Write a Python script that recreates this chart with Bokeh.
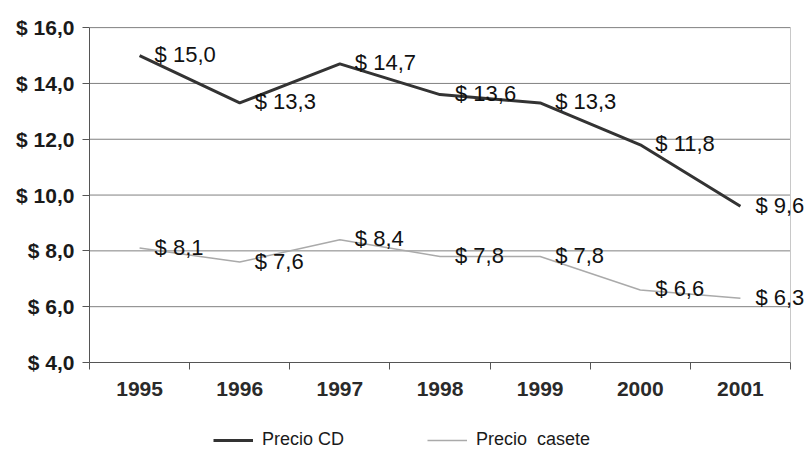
from bokeh.plotting import figure
from bokeh.layouts import column
from bokeh.models import Range1d, FixedTicker, Legend, LegendItem, ColumnDataSource
from bokeh.embed import file_html
from bokeh.resources import INLINE
from bokeh.core.properties import value

years = [1995, 1996, 1997, 1998, 1999, 2000, 2001]
precio_cd = [15.0, 13.3, 14.7, 13.6, 13.3, 11.8, 9.6]
precio_casete = [8.1, 7.6, 8.4, 7.8, 7.8, 6.6, 6.3]
y_ticks = [4, 6, 8, 10, 12, 14, 16]
series_names = ["Precio CD", "Precio  casete"]

def fmt(v):
    return "$ " + f"{v:.1f}".replace(".", ",")

FONT = "Liberation Sans"
CD_COLOR, CS_COLOR = "#333333", "#aaaaaa"
CD_W, CS_W = 3, 1.5

# plot box spans 701 px for the 7 years; the frame runs on to the page edge
# so that the last data labels are not clipped
x_start = years[0] - 0.5
x_stop = years[-1] + 0.5
x_end = x_start + (x_stop - x_start) * 720.0 / 701.0
y_end = y_ticks[-1] + 0.04

p = figure(width=809, height=400, output_backend="svg", toolbar_location=None,
           x_range=Range1d(x_start, x_end),
           y_range=Range1d(y_ticks[0], y_end),
           min_border_left=89, min_border_right=0, min_border_top=26, min_border_bottom=38)

p.outline_line_color = None
p.background_fill_color = "white"
p.border_fill_color = "white"
p.xgrid.visible = False
p.ygrid.visible = False

# x axis
xa = p.xaxis[0]
xa.bounds = (x_start, x_stop)
xa.ticker = FixedTicker(ticks=years, minor_ticks=[y - 0.5 for y in years] + [x_stop])
xa.major_tick_out = 0
xa.major_tick_in = 0
xa.minor_tick_out = 7
xa.minor_tick_in = 0
xa.minor_tick_line_color = "#555555"
xa.axis_line_color = "#555555"
xa.major_label_standoff = 12
xa.major_label_text_font = FONT
xa.major_label_text_font_size = "21px"
xa.major_label_text_font_style = "bold"
xa.major_label_text_color = "#2a2a2a"

# y axis
ya = p.yaxis[0]
ya.bounds = (y_ticks[0], y_ticks[-1])
ya.ticker = FixedTicker(ticks=y_ticks, minor_ticks=[])
ya.major_label_overrides = {t: fmt(t) for t in y_ticks}
ya.major_tick_out = 7
ya.major_tick_in = 0
ya.major_tick_line_color = "#555555"
ya.axis_line_color = "#555555"
ya.major_label_standoff = 8
ya.major_label_text_font = FONT
ya.major_label_text_font_size = "21px"
ya.major_label_text_font_style = "bold"
ya.major_label_text_color = "#1a1a1a"

# horizontal grid lines limited to the plot box, and its light right edge
grid_y = y_ticks[1:]
p.segment(x0=[x_start] * len(grid_y), x1=[x_stop] * len(grid_y), y0=grid_y, y1=grid_y,
          line_color="#808080", line_width=1)
p.segment(x0=[x_stop], x1=[x_stop], y0=[y_ticks[0]], y1=[y_ticks[-1]],
          line_color="#c8c8c8", line_width=1)

src_cd = ColumnDataSource(dict(x=years, y=precio_cd, t=[fmt(v) for v in precio_cd]))
src_cs = ColumnDataSource(dict(x=years, y=precio_casete, t=[fmt(v) for v in precio_casete]))

p.line("x", "y", source=src_cd, line_color=CD_COLOR, line_width=CD_W)
p.line("x", "y", source=src_cs, line_color=CS_COLOR, line_width=CS_W)

for src in (src_cd, src_cs):
    p.text("x", "y", text="t", source=src, x_offset=15, y_offset=-1,
           text_font=value(FONT), text_font_size="22px", text_color="#111111",
           text_align="left", text_baseline="middle")

# legend strip below the chart (series drawn out of view, only the legend shows)
pl = figure(width=809, height=50, output_backend="svg", toolbar_location=None,
            x_range=Range1d(0, 1), y_range=Range1d(0, 1),
            x_axis_location=None, y_axis_location=None,
            min_border=0, min_border_left=0, min_border_right=0,
            min_border_top=0, min_border_bottom=0)
pl.grid.visible = False
pl.outline_line_color = None
pl.border_fill_color = "white"
pl.background_fill_color = "white"
l1 = pl.line(years, precio_cd, line_color=CD_COLOR, line_width=CD_W)
l2 = pl.line(years, precio_casete, line_color=CS_COLOR, line_width=CS_W)
legend = Legend(items=[LegendItem(label=series_names[0], renderers=[l1]),
                       LegendItem(label=series_names[1], renderers=[l2])],
                orientation="horizontal", location=(124, 0),
                border_line_color=None, background_fill_alpha=0,
                padding=0, margin=0, spacing=80, glyph_width=40, glyph_height=20,
                label_standoff=9, label_width=85, label_height=20,
                label_text_font=FONT, label_text_font_size="18px", label_text_color="#1a1a1a")
pl.add_layout(legend)

layout = column(p, pl, spacing=0)
open("out.html", "w").write(file_html(layout, INLINE))
